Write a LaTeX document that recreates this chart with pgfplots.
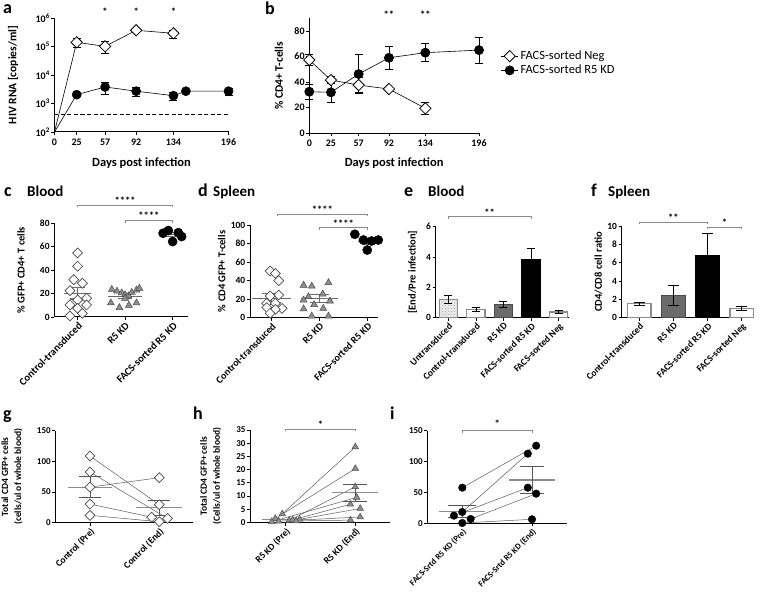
\documentclass[border=0pt]{standalone}
\usepackage{fontspec}
\setmainfont{Carlito}
\usepackage{pgfplots}
\pgfplotsset{compat=1.18}
\usetikzlibrary{patterns}
\definecolor{brk}{HTML}{8A8A8A}
\definecolor{meanc}{HTML}{6A6A6A}
\definecolor{meang}{HTML}{8C8C8C}
\definecolor{semg}{HTML}{555555}
\definecolor{pairc}{HTML}{5A5A5A}
\definecolor{trif}{HTML}{8E8E8E}
\definecolor{trid}{HTML}{4A4A4A}
\definecolor{dkbar}{HTML}{6B6B6B}
\definecolor{wbar}{HTML}{8A8A8A}
\pgfplotsset{
 base/.style={scale only axis, clip=false, anchor=south west,
   axis x line*=bottom, axis y line*=left,
   axis line style={line width=1pt, black, -},
   tick style={line width=0.8pt, black}, major tick length=3pt, minor tick length=0pt, tick align=outside,
   /pgf/number format/assume math mode=true,
   tick label style={font=\bfseries\fontsize{9.5}{10}\selectfont},
   label style={font=\bfseries\fontsize{10.5}{12}\selectfont},
   ylabel style={anchor=center}, xlabel style={anchor=center},
   yticklabel style={inner xsep=1.5pt},
 },
 cat/.style={base, xticklabel style={rotate=45, anchor=north east, inner sep=1pt}},
 ebar/.style={error bars/.cd, y dir=both, y explicit,
   error bar style={line width=0.8pt, black},
   error mark options={rotate=90, mark size=4pt, line width=0.8pt, black}},
 opend/.style={mark=square*, mark options={rotate=45, fill=white, draw=black, line width=0.8pt, solid}},
 opendg/.style={mark=square*, mark options={rotate=45, fill=white, draw=trid, line width=0.7pt, solid}},
 fillc/.style={mark=*, mark options={fill=black, draw=black, solid}},
 trim/.style={mark=triangle*, mark options={fill=trif, draw=trid, line width=0.5pt, solid}},
 bracket/.style={brk, line width=0.8pt, forget plot},
 meanl/.style={meanc, line width=1.1pt, forget plot},
 meanlg/.style={meang, line width=1.1pt, forget plot},
 seml/.style={semg, line width=0.9pt, forget plot},
 pairl/.style={pairc, line width=0.5pt, forget plot},
}
\newcommand{\sig}[1]{{\bfseries\fontsize{10.5}{10}\selectfont #1}}
\begin{document}
\begin{tikzpicture}
\useasboundingbox (0,0) rectangle (760pt,592pt);
% ---------------- panel a
\begin{axis}[base, at={(54.5pt,460pt)}, width=174pt, height=114pt,
  xmin=0, xmax=196, ymode=log, ymin=100, ymax=1e6,
  xtick={0,25,57,92,134,196}, ytick={1e2,1e3,1e4,1e5,1e6},
  yticklabels={10\textsuperscript{2},10\textsuperscript{3},10\textsuperscript{4},10\textsuperscript{5},10\textsuperscript{6}},
  xlabel={Days post infection}, ylabel={HIV RNA [copies/ml]},
  xlabel style={at={(axis description cs:0.5,-0.27)}, font=\bfseries\fontsize{12.5}{14}\selectfont},
  ylabel style={at={(axis description cs:-0.238,0.5)}, font=\bfseries\fontsize{11.5}{12}\selectfont},
  tick label style={font=\bfseries\fontsize{10}{10}\selectfont}]
\addplot[black, line width=1.2pt, dashed, dash pattern=on 4pt off 2.5pt] coordinates {(0,400) (196,400)};
\addplot[black, line width=0.6pt] coordinates {(0,100) (25,140000) (57,101000) (92,370000) (134,290000)};
\addplot[black, line width=0.6pt] coordinates {(0,100) (25,2040) (57,3800) (92,2700) (134,1880) (148,2700) (196,2700)};
\addplot[only marks, opend, mark size=4pt, ebar] table[x=x, y=y, y error=e] {
x y e
25 140000 45000
57 101000 45000
92 370000 30000
134 290000 90000
};
\addplot[only marks, fillc, mark size=4.6pt, ebar] table[x=x, y=y, y error=e] {
x y e
25 2040 300
57 3800 1700
92 2700 900
134 1880 600
148 2700 300
196 2700 700
};
\node at (axis cs:57,1.6e6) {\sig{*}};
\node at (axis cs:92,1.6e6) {\sig{*}};
\node at (axis cs:134,1.6e6) {\sig{*}};
\end{axis}
% ---------------- panel b
\begin{axis}[base, at={(309.3pt,458.7pt)}, width=169.7pt, height=115.2pt,
  xmin=0, xmax=196, ymin=0, ymax=90,
  xtick={0,25,57,92,134,196}, ytick={0,20,40,60,80},
  xlabel={Days post infection}, ylabel={\% CD4+ T-cells},
  xlabel style={at={(axis description cs:0.5,-0.26)}, font=\bfseries\fontsize{12.5}{14}\selectfont},
  ylabel style={at={(axis description cs:-0.179,0.5)}, font=\bfseries\fontsize{11.5}{12}\selectfont},
  tick label style={font=\bfseries\fontsize{10}{10}\selectfont},
  legend style={draw=none, fill=none, at={(axis description cs:1.11,0.75)}, anchor=north west,
    font=\fontsize{12.5}{14}\selectfont, row sep=0pt},
  legend cell align=left]
\addplot[black, line width=0.6pt, opend, mark size=4pt, ebar] table[x=x, y=y, y error=e] {
x y e
0 57.3 4.5
25 41.6 3
57 37.7 6
92 34.6 1
134 19.5 5
};
\addlegendentry{FACS-sorted Neg}
\addplot[black, line width=0.6pt, fillc, mark size=4.6pt, ebar] table[x=x, y=y, y error=e] {
x y e
0 32.5 6
25 32 8
57 46.3 15
92 59 9
134 63 7
196 65 10
};
\addlegendentry{FACS-sorted R5 KD}
\node at (axis cs:92,93) {\sig{**}};
\node at (axis cs:134,93) {\sig{**}};
\end{axis}
% ---------------- panel c
\begin{axis}[cat, at={(54.3pt,275pt)}, width=134pt, height=93.7pt,
  xmin=-0.49, xmax=2.33, ymin=0, ymax=80,
  xtick={0,1,2}, xticklabels={Control-transduced, R5 KD, FACS-sorted R5 KD},
  ytick={0,20,40,60,80}, ylabel={\% GFP+ CD4+ T cells},
  ylabel style={at={(axis description cs:-0.248,0.5)}},
  xticklabel style={font=\bfseries\fontsize{10.5}{10}\selectfont}]
\addplot[only marks, opendg, mark size=3.5pt] coordinates {
(0,54.7) (0,43.3) (-0.08,31.9) (0.1,28.8) (-0.16,22.5) (0,14.5) (0.19,16) (-0.16,10.3) (0.19,10.3) (0,7.4) (-0.16,0.9) (0.1,3.1)};
\addplot[only marks, trim, mark size=4pt] coordinates {
(0.72,23.5) (0.83,22) (0.93,20.5) (1.0,19) (1.07,18) (1.14,21) (1.24,23) (1.3,24.5) (0.7,12) (0.88,8) (1.08,10) (1.24,12) (1.0,16)};
\addplot[only marks, fillc, mark size=4.6pt] coordinates {
(1.8,71.5) (1.91,73.8) (2.0,64.4) (2.12,72) (2.19,68.7)};
\addplot[meanl] coordinates {(-0.28,20.2) (0.28,20.2)};
\addplot[meanl] coordinates {(0,15.4) (0,25)};
\addplot[meanl] coordinates {(-0.15,25) (0.15,25)};
\addplot[meanl] coordinates {(-0.15,15.4) (0.15,15.4)};
\addplot[meanl] coordinates {(0.65,17.7) (1.35,17.7)};
\addplot[meanl] coordinates {(1,16) (1,19.4)};
\addplot[meanl] coordinates {(0.85,19.4) (1.15,19.4)};
\addplot[meanl] coordinates {(0.85,16) (1.15,16)};
\addplot[meanl] coordinates {(1.72,70.1) (2.28,70.1)};
\addplot[meanl] coordinates {(1.88,71.8) (2.12,71.8)};
\addplot[meanl] coordinates {(1.88,68.4) (2.12,68.4)};
\addplot[bracket] coordinates {(0,93.9) (0,95.6) (2,95.6) (2,93.9)};
\addplot[bracket] coordinates {(1,80.5) (1,82.2) (2,82.2) (2,80.5)};
\node at (axis cs:1,99.5) {\sig{****}};
\node at (axis cs:1.5,86.5) {\sig{****}};
\end{axis}
% ---------------- panel d
\begin{axis}[cat, at={(250pt,274.3pt)}, width=127.8pt, height=92.7pt,
  xmin=-0.45, xmax=2.22, ymin=0, ymax=100,
  xtick={0,1,2}, xticklabels={Control-transduced, R5 KD, FACS-sorted R5 KD},
  ytick={0,20,40,60,80,100}, ylabel={\% CD4 GFP+ T-cells},
  ylabel style={at={(axis description cs:-0.221,0.5)}},
  xticklabel style={font=\bfseries\fontsize{10}{10}\selectfont}]
\addplot[only marks, opendg, mark size=3.5pt] coordinates {
(-0.03,50.4) (0.08,47.8) (0.15,40) (0.15,24.5) (-0.03,23.4) (-0.1,15.5) (0.08,15.5) (-0.1,11) (0.22,10) (0.08,9) (-0.03,4.7)};
\addplot[only marks, trim, mark size=4pt] coordinates {
(0.67,35) (0.84,34) (1.19,37.8) (0.77,22.6) (1.07,25.5) (0.67,19) (1.22,18) (0.67,9.4) (0.89,14) (1.08,10) (0.84,1.8) (1.19,1.8)};
\addplot[only marks, fillc, mark size=4.6pt] coordinates {
(1.74,90) (1.92,83.8) (2.09,82.7) (2.23,83.8) (2.0,73)};
\addplot[meanl] coordinates {(-0.4,20.9) (0.4,20.9)};
\addplot[meanl] coordinates {(0,16.4) (0,26)};
\addplot[meanl] coordinates {(-0.2,26) (0.2,26)};
\addplot[meanl] coordinates {(-0.2,16.4) (0.2,16.4)};
\addplot[meanl] coordinates {(0.62,20.5) (1.38,20.5)};
\addplot[meanl] coordinates {(1,16) (1,25)};
\addplot[meanl] coordinates {(0.8,25) (1.2,25)};
\addplot[meanl] coordinates {(0.8,16) (1.2,16)};
\addplot[meanl] coordinates {(1.8,82.3) (2.2,82.3)};
\addplot[meanl] coordinates {(2,79.5) (2,85)};
\addplot[meanl] coordinates {(1.9,85) (2.1,85)};
\addplot[meanl] coordinates {(1.9,79.5) (2.1,79.5)};
\addplot[bracket] coordinates {(0.12,109.7) (0.12,111.9) (2,111.9) (2,109.7)};
\addplot[bracket] coordinates {(1,94.9) (1,97.1) (2,97.1) (2,94.9)};
\node at (axis cs:1.06,116) {\sig{****}};
\node at (axis cs:1.5,101.5) {\sig{****}};
\end{axis}
% ---------------- panel e
\begin{axis}[cat, at={(435.6pt,274.3pt)}, width=133.3pt, height=91pt,
  xmin=-0.46, xmax=4.37, ymin=0, ymax=6,
  xtick={0,1,2,3,4}, xticklabels={Untransduced, Control-transduced, R5 KD, FACS-sorted R5 KD, FACS-sorted Neg},
  ytick={0,2,4,6}, ylabel={[End/Pre infection]},
  ylabel style={at={(axis description cs:-0.172,0.5)}},
  xticklabel style={font=\bfseries\fontsize{9.5}{10}\selectfont}]
\addplot[ybar, bar width=18.3pt, bar shift=0pt, fill=gray!12, draw=wbar, line width=1pt, postaction={pattern=crosshatch dots, pattern color=gray!80}, ebar] coordinates {(0,1.21) +- (0,0.26)};
\addplot[ybar, bar width=18.3pt, bar shift=0pt, fill=white, draw=wbar, line width=1.2pt, ebar] coordinates {(1,0.55) +- (0,0.13)};
\addplot[ybar, bar width=18.3pt, bar shift=0pt, fill=dkbar, draw=trid, line width=1pt, ebar] coordinates {(2,0.88) +- (0,0.22)};
\addplot[ybar, bar width=18.3pt, bar shift=0pt, fill=black, draw=black, line width=1pt, ebar] coordinates {(3,3.85) +- (0,0.72)};
\addplot[ybar, bar width=18.3pt, bar shift=0pt, fill=white, draw=wbar, line width=1.2pt, ebar] coordinates {(4,0.37) +- (0,0.1)};
\addplot[bracket] coordinates {(0,6.53) (0,6.66) (3,6.66) (3,6.53)};
\node at (axis cs:1.5,6.95) {\sig{**}};
\end{axis}
% ---------------- panel f
\begin{axis}[cat, at={(621.6pt,274.3pt)}, width=131.6pt, height=91.7pt,
  xmin=-0.52, xmax=3.34, ymin=0, ymax=10,
  xtick={0,1,2,3}, xticklabels={Control-transduced, R5 KD, FACS-sorted R5 KD, FACS-sorted Neg},
  ytick={0,2,4,6,8,10}, ylabel={CD4/CD8 cell ratio},
  ylabel style={at={(axis description cs:-0.177,0.5)}},
  xticklabel style={font=\bfseries\fontsize{9.5}{10}\selectfont}]
\addplot[ybar, bar width=23.3pt, bar shift=0pt, fill=white, draw=wbar, line width=1.2pt, ebar, error mark options={rotate=90, mark size=5.5pt, line width=0.8pt}] coordinates {(0,1.53) +- (0,0.17)};
\addplot[ybar, bar width=23.3pt, bar shift=0pt, fill=dkbar, draw=trid, line width=1pt, ebar, error mark options={rotate=90, mark size=5.5pt, line width=0.8pt}] coordinates {(1,2.44) +- (0,1.05)};
\addplot[ybar, bar width=23.3pt, bar shift=0pt, fill=black, draw=black, line width=1pt, ebar, error mark options={rotate=90, mark size=5.5pt, line width=0.8pt}] coordinates {(2,6.76) +- (0,2.44)};
\addplot[ybar, bar width=23.3pt, bar shift=0pt, fill=white, draw=wbar, line width=1.2pt, ebar, error mark options={rotate=90, mark size=5.5pt, line width=0.8pt}] coordinates {(3,1.02) +- (0,0.17)};
\addplot[bracket] coordinates {(0,10.2) (0,10.4) (2,10.4) (2,10.2)};
\addplot[bracket] coordinates {(2,9.66) (2,9.86) (3,9.86) (3,9.66)};
\node at (axis cs:1,10.95) {\sig{**}};
\node at (axis cs:2.5,10.4) {\sig{*}};
\end{axis}
% ---------------- panel g
\begin{axis}[cat, at={(55.35pt,69.3pt)}, width=137.2pt, height=92pt,
  xmin=-0.5, xmax=1.48, ymin=0, ymax=150,
  xtick={0,1}, xticklabels={Control (Pre), Control (End)},
  ytick={0,50,100,150}, ylabel={Total CD4 GFP+ cells\\(cells/ul of whole blood)},
  ylabel style={at={(axis description cs:-0.316,0.5)}, align=center, font=\bfseries\fontsize{9.5}{13}\selectfont},
  tick label style={font=\bfseries\fontsize{9}{10}\selectfont},
  xticklabel style={font=\bfseries\fontsize{9.5}{10}\selectfont}]
\addplot[pairl] coordinates {(0,108.7) (1,29.3)};
\addplot[pairl] coordinates {(0,82.6) (1.12,7)};
\addplot[pairl] coordinates {(0,58) (1,73.4)};
\addplot[pairl] coordinates {(0,30.4) (0.89,9)};
\addplot[pairl] coordinates {(0,12) (1,1.6)};
\addplot[meanlg] coordinates {(-0.32,58) (0.32,58)};
\addplot[seml] coordinates {(0,41.3) (0,75.5)};
\addplot[seml] coordinates {(-0.16,75.5) (0.16,75.5)};
\addplot[seml] coordinates {(-0.16,41.3) (0.16,41.3)};
\addplot[meanlg] coordinates {(0.67,24.6) (1.33,24.6)};
\addplot[seml] coordinates {(1,12.5) (1,36.6)};
\addplot[seml] coordinates {(0.84,36.6) (1.16,36.6)};
\addplot[seml] coordinates {(0.84,12.5) (1.16,12.5)};
\addplot[only marks, opendg, mark size=3.5pt] coordinates {
(0,108.7) (0,82.6) (0,58) (0,30.4) (0,12) (1,73.4) (1,29.3) (0.89,9) (1.12,7) (1,1.6)};
\end{axis}
% ---------------- panel h
\begin{axis}[cat, at={(250.2pt,69.5pt)}, width=139.9pt, height=92.5pt,
  xmin=-0.51, xmax=1.5, ymin=0, ymax=35,
  xtick={0,1}, xticklabels={R5 KD (Pre), R5 KD (End)},
  ytick={0,5,10,15,20,25,30,35}, ylabel={Total CD4 GFP+ cells\\(Cells/ul of whole blood)},
  ylabel style={at={(axis description cs:-0.282,0.5)}, align=center, font=\bfseries\fontsize{9.5}{13}\selectfont},
  tick label style={font=\bfseries\fontsize{9}{10}\selectfont},
  xticklabel style={font=\bfseries\fontsize{9.5}{10}\selectfont}]
\addplot[pairl] coordinates {(-0.05,3.2) (1,28.6)};
\addplot[pairl] coordinates {(-0.15,1.5) (1,20.4)};
\addplot[pairl] coordinates {(0.05,0.8) (1,13.5)};
\addplot[pairl] coordinates {(-0.2,0.3) (1.02,9.5)};
\addplot[pairl] coordinates {(0.1,1.0) (0.93,6.9)};
\addplot[pairl] coordinates {(0.2,1.2) (1.07,5.3)};
\addplot[pairl] coordinates {(-0.1,0.5) (1.07,2.1)};
\addplot[pairl] coordinates {(0.15,0.6) (0.93,0.9)};
\addplot[meanlg] coordinates {(-0.34,1.1) (0.32,1.1)};
\addplot[meanlg] coordinates {(0.66,11.2) (1.33,11.2)};
\addplot[seml] coordinates {(1,7.9) (1,14.5)};
\addplot[seml] coordinates {(0.83,14.5) (1.17,14.5)};
\addplot[seml] coordinates {(0.83,7.9) (1.17,7.9)};
\addplot[only marks, trim, mark size=3.8pt] coordinates {
(-0.05,3.2) (-0.15,1.5) (0.05,0.8) (-0.2,0.3) (0.1,1.0) (0.2,1.2) (-0.1,0.5) (0.15,0.6)
(1,28.6) (1,20.4) (1,13.5) (1.02,9.5) (0.93,6.9) (1.07,5.3) (1.07,2.1) (0.93,0.9)};
\addplot[bracket] coordinates {(0,34.5) (0,35.3) (1,35.3) (1,34.5)};
\node at (axis cs:0.5,37) {\sig{*}};
\end{axis}
% ---------------- panel i
\begin{axis}[cat, at={(427.45pt,68.7pt)}, width=139.4pt, height=92.6pt,
  xmin=-0.5, xmax=1.5, ymin=0, ymax=150,
  xtick={0,1}, xticklabels={FACS-Srtd R5 KD (Pre), FACS-Srtd R5 KD (End)},
  ytick={0,50,100,150},
  tick label style={font=\bfseries\fontsize{9}{10}\selectfont},
  xticklabel style={font=\bfseries\fontsize{8.5}{10}\selectfont}]
\addplot[pairl] coordinates {(0,57.7) (1.06,125.7)};
\addplot[pairl] coordinates {(0,18.3) (0.94,112.8)};
\addplot[pairl] coordinates {(-0.12,12.4) (0.94,57.7)};
\addplot[pairl] coordinates {(0.12,7) (1.06,48)};
\addplot[pairl] coordinates {(0,0.5) (1,6.5)};
\addplot[meanlg] coordinates {(-0.33,19.4) (0.33,19.4)};
\addplot[seml] coordinates {(0,9) (0,29.7)};
\addplot[seml] coordinates {(-0.2,29.7) (0.2,29.7)};
\addplot[seml] coordinates {(-0.2,9) (0.2,9)};
\addplot[meanlg] coordinates {(0.67,70.2) (1.33,70.2)};
\addplot[seml] coordinates {(1,48) (1,91.7)};
\addplot[seml] coordinates {(0.83,91.7) (1.17,91.7)};
\addplot[seml] coordinates {(0.83,48) (1.17,48)};
\addplot[only marks, fillc, mark size=3.8pt] coordinates {
(0,57.7) (0,18.3) (-0.12,12.4) (0.12,7) (0,0.5) (1.06,125.7) (0.94,112.8) (0.94,57.7) (1.06,48) (1,6.5)};
\addplot[bracket] coordinates {(0,146) (0,150) (1,150) (1,146)};
\node at (axis cs:0.5,161) {\sig{*}};
\end{axis}
% ---------------- panel titles
\begin{scope}[every node/.style={anchor=base west, inner sep=0pt}]
\node[font=\bfseries\fontsize{18}{18}\selectfont] at (3pt,578.5pt) {a};
\node[font=\bfseries\fontsize{18}{18}\selectfont] at (265pt,577pt) {b};
\node[font=\bfseries\fontsize{18}{18}\selectfont] at (4pt,395pt) {c};
\node[font=\bfseries\fontsize{15}{15}\selectfont] at (27pt,395pt) {Blood};
\node[font=\bfseries\fontsize{18}{18}\selectfont] at (198pt,395pt) {d};
\node[font=\bfseries\fontsize{15}{15}\selectfont] at (213pt,395pt) {Spleen};
\node[font=\bfseries\fontsize{18}{18}\selectfont] at (404pt,395pt) {e};
\node[font=\bfseries\fontsize{15}{15}\selectfont] at (428pt,395pt) {Blood};
\node[font=\bfseries\fontsize{18}{18}\selectfont] at (591pt,395pt) {f};
\node[font=\bfseries\fontsize{15}{15}\selectfont] at (608pt,395pt) {Spleen};
\node[font=\bfseries\fontsize{18}{18}\selectfont] at (3pt,172.7pt) {g};
\node[font=\bfseries\fontsize{18}{18}\selectfont] at (193pt,172.7pt) {h};
\node[font=\bfseries\fontsize{18}{18}\selectfont] at (390pt,172.7pt) {i};
\end{scope}
\end{tikzpicture}
\end{document}
